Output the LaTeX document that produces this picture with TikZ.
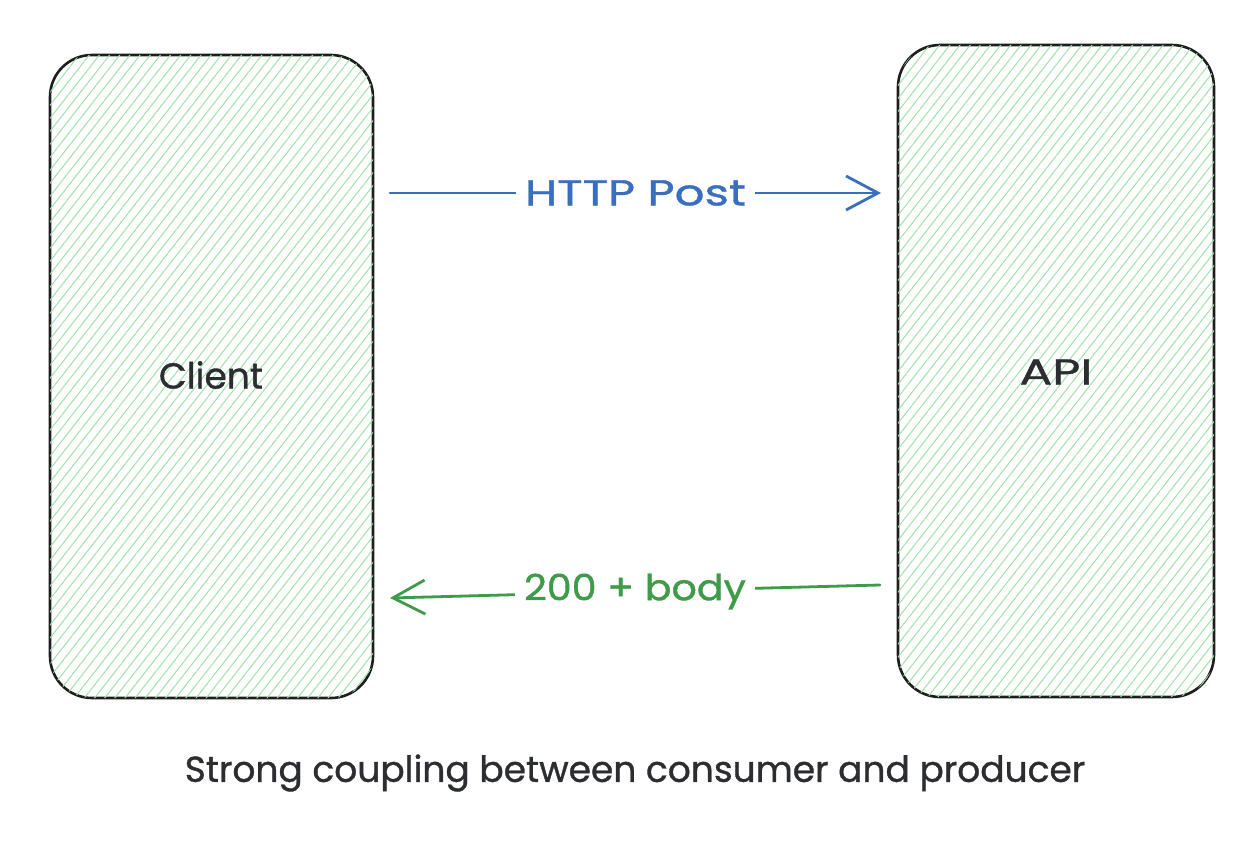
\documentclass[tikz,border=0pt]{standalone}
\usepackage{fontspec}
\setmainfont{Poppins}[FakeBold=1]
\newfontfamily\widea{Poppins}[FakeStretch=1.3,FakeBold=1]
\newfontfamily\wideb{Poppins}[FakeStretch=1.1,FakeBold=1]
\newfontfamily\widec{Poppins}[FakeStretch=1.35,FakeBold=1]
\usetikzlibrary{arrows.meta,patterns.meta}
\definecolor{ink}{HTML}{1E1E1E}
\definecolor{txt}{HTML}{2B2D31}
\definecolor{hatch}{HTML}{9FE3A9}
\definecolor{bluearr}{HTML}{3A6FC0}
\definecolor{greenarr}{HTML}{3F9A4A}
\tikzset{
  box/.style={draw=ink, line width=2.6pt, rounded corners=42pt,
    postaction={pattern={Lines[angle=52,distance=8pt,line width=1pt]}, pattern color=hatch}},
  boxlabel/.style={text=txt, font=\fontsize{36}{42}\selectfont},
  arrlabel/.style={font=\fontsize{36}{42}\selectfont, inner xsep=9pt, inner ysep=6pt},
  conn/.style={line width=2.8pt, line cap=round,
    -{Straight Barb[length=32pt,width=34pt,line width=2.8pt]}},
  caption/.style={text=txt, font=\fontsize{36}{42}\selectfont}
}
\begin{document}
\begin{tikzpicture}[x=1pt,y=-1pt]
\useasboundingbox (0,0) rectangle (1260,858);
\draw[box] (50,55) rectangle (373,698);
\draw[box] (898,45) rectangle (1214,697);
\node[boxlabel] (client) at (211,375) {Client};
\node[boxlabel] (api) at (1056,372) {\widec API};
\coordinate (c1) at (390,193);
\coordinate (a1) at (881,193);
\coordinate (a2) at (880,585);
\coordinate (c2) at (390,598);
\draw[conn, bluearr] (c1) -- node[arrlabel, fill=white, text=bluearr] (post) {\widea HTTP Post} (a1);
\draw[conn, greenarr] (a2) -- node[arrlabel, fill=white, text=greenarr, pos=0.5] (resp) {\wideb 200 + body} (c2);
\node[caption] (cap) at (635,773) {Strong coupling between consumer and producer};
\end{tikzpicture}
\end{document}
